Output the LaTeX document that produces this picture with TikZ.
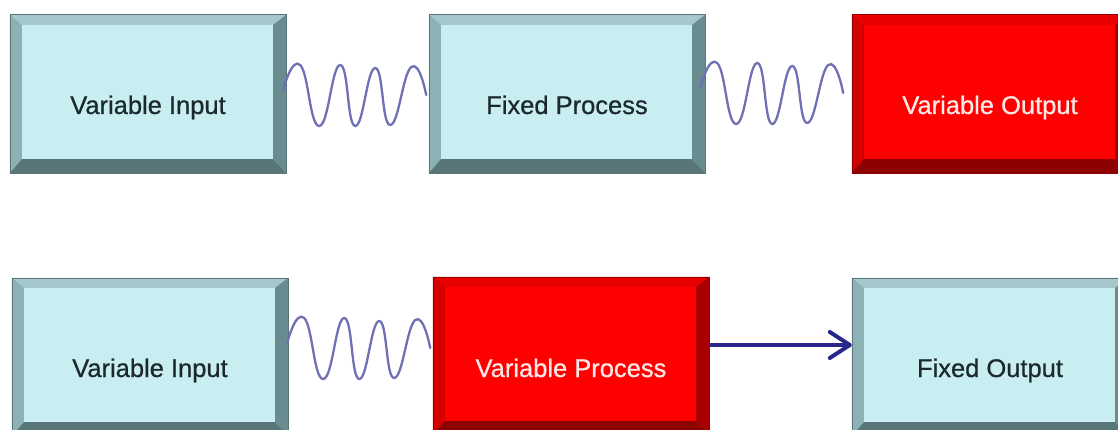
\documentclass[tikz,border=0pt]{standalone}
\usepackage{fontspec}
\setmainfont{Liberation Sans}
\newfontfamily\lblfont[FakeBold=0.7]{Liberation Sans}
\usetikzlibrary{calc,arrows.meta}
\definecolor{cface}{RGB}{200,238,242}
\definecolor{ctop}{RGB}{165,200,205}
\definecolor{cleft}{RGB}{140,178,182}
\definecolor{cright}{RGB}{105,140,145}
\definecolor{cbot}{RGB}{88,118,120}
\definecolor{rface}{RGB}{255,0,0}
\definecolor{rtop}{RGB}{232,0,0}
\definecolor{rleft}{RGB}{212,0,0}
\definecolor{rright}{RGB}{168,0,0}
\definecolor{rbot}{RGB}{140,0,0}
\definecolor{ctext}{RGB}{28,40,44}
\definecolor{rtext}{RGB}{255,232,232}
\definecolor{wavecol}{RGB}{112,112,180}
\definecolor{arrcol}{RGB}{40,40,140}
\tikzset{
  boxshape/.style={rectangle, inner sep=0pt, minimum width=276pt, minimum height=158pt},
  cbox/.style={boxshape, fill=cface},
  rbox/.style={boxshape, fill=rface},
  lbl/.style={font=\lblfont\fontsize{25.5}{30}\selectfont, anchor=base, inner sep=0pt},
  clbl/.style={lbl, text=ctext},
  rlbl/.style={lbl, text=rtext},
  wavestyle/.style={draw=wavecol, line width=2.3pt, line cap=round},
  arrstyle/.style={draw=arrcol, line width=4pt, -{Straight Barb[length=20pt,width=26pt,line cap=round,line join=round]}},
  wave/.pic={\path[wavestyle] plot[smooth,tension=0.85] coordinates {(0,0) (17,-25) (36,36) (57,-25) (72,36) (92,-22) (107,35) (128,-23) (143,5)};}
}
\newcommand\bevel[5]{%
  \fill[#2] (#1.north west) -- (#1.north east) -- ($(#1.north east)+(-13,10)$) -- ($(#1.north west)+(12,10)$) -- cycle;
  \fill[#3] (#1.north west) -- ($(#1.north west)+(12,10)$) -- ($(#1.south west)+(12,-14)$) -- (#1.south west) -- cycle;
  \fill[#4] (#1.north east) -- ($(#1.north east)+(-13,10)$) -- ($(#1.south east)+(-13,-14)$) -- (#1.south east) -- cycle;
  \fill[#5] (#1.south west) -- ($(#1.south west)+(12,-14)$) -- ($(#1.south east)+(-13,-14)$) -- (#1.south east) -- cycle;
  \draw[line width=0.6pt, #5] (#1.north west) rectangle (#1.south east);
}
\begin{document}
\begin{tikzpicture}[x=1pt,y=-1pt]
\useasboundingbox (0,0) rectangle (1118,430);
\clip (0,0) rectangle (1118,430);
% top row
\node[cbox] (vi1) at (148,94) {};
\bevel{vi1}{ctop}{cleft}{cright}{cbot}
\node[clbl] (tvi1) at ($(vi1.center)+(0,20)$) {Variable Input};
\node[cbox] (fp) at (567,94) {};
\bevel{fp}{ctop}{cleft}{cright}{cbot}
\node[clbl] (tfp) at ($(fp.center)+(0,20)$) {Fixed Process};
\node[rbox] (vo) at (990,94) {};
\bevel{vo}{rtop}{rleft}{rright}{rbot}
\node[rlbl] (tvo) at ($(vo.center)+(0,20)$) {Variable Output};
% bottom row
\node[cbox] (vi2) at (150,357) {};
\bevel{vi2}{ctop}{cleft}{cright}{cbot}
\node[clbl] (tvi2) at ($(vi2.center)+(0,20)$) {Variable Input};
\node[rbox] (vp) at (571,356) {};
\bevel{vp}{rtop}{rleft}{rright}{rbot}
\node[rlbl] (tvp) at ($(vp.center)+(0,21)$) {Variable Process};
\node[cbox] (fo) at (990,357) {};
\bevel{fo}{ctop}{cleft}{cright}{cbot}
\node[clbl] (tfo) at ($(fo.center)+(0,20)$) {Fixed Output};
% wavy connectors
\pic at ($(vi1.east)+(-3,-4)$) {wave};
\pic at ($(fp.east)+(-5,-6)$) {wave};
\pic at ($(vi2.east)+(-1,-14)$) {wave};
% arrow
\coordinate (a1) at ($(vp.east)+(0,-11)$);
\draw[arrstyle] (a1) -- (a1 -| fo.west);
\end{tikzpicture}
\end{document}
